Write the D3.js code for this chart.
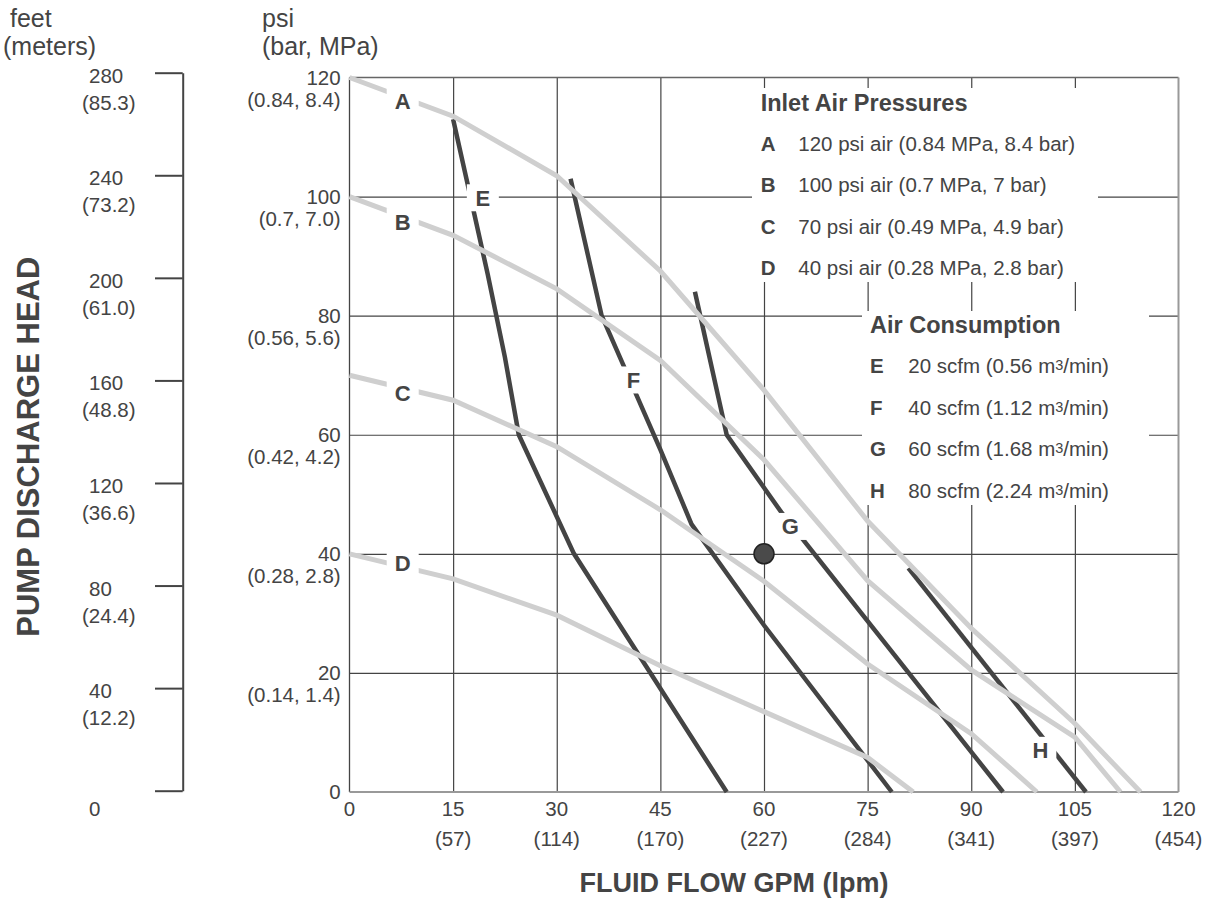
<!DOCTYPE html>
<html>
<head>
<meta charset="utf-8">
<script src="https://cdn.jsdelivr.net/npm/d3@7/dist/d3.min.js"></script>
<style>
  body { margin: 0; background: #fff; }
  svg text { font-family: "Liberation Sans", Arial, Helvetica, sans-serif; fill: #444; }
</style>
</head>
<body>
<svg id="chart" width="1211" height="899"></svg>
<script>
// ---- data ----
const flowTicks = [0, 15, 30, 45, 60, 75, 90, 105, 120]
const lpmLabels = ["", "(57)", "(114)", "(170)", "(227)", "(284)", "(341)", "(397)", "(454)"]
const psiTicks = [0, 20, 40, 60, 80, 100, 120]
const psiSubLabels = ["", "(0.14, 1.4)", "(0.28, 2.8)", "(0.42, 4.2)", "(0.56, 5.6)", "(0.7, 7.0)", "(0.84, 8.4)"]
const feetTicks = [0, 40, 80, 120, 160, 200, 240, 280]
const meterLabels = ["", "(12.2)", "(24.4)", "(36.6)", "(48.8)", "(61.0)", "(73.2)", "(85.3)"]

// inlet air pressure curves (gpm, psi)
const curveA = [[0, 120], [15, 113.5], [30, 103.5], [45, 87.5], [60, 67.5], [75, 45.5], [90, 27.5], [105, 11.5], [114.5, 0]]
const curveB = [[0, 100], [15, 93.5], [30, 84.5], [45, 72.5], [60, 55.8], [75, 35.5], [90, 20.5], [105, 9.2], [111.6, 0]]
const curveC = [[0, 70], [15, 65.8], [30, 58], [45, 47.4], [60, 35.4], [75, 21.5], [90, 9.8], [99.5, 0]]
const curveD = [[0, 40], [15, 35.8], [30, 29.7], [45, 21.2], [60, 13.5], [75, 5.8], [81.6, 0]]
// air consumption curves
const curveE = [[15, 113], [17.5, 100], [20, 87], [22.5, 73], [24.5, 60], [32.5, 40], [54.6, 0]]
const curveF = [[32, 103], [36.5, 80], [45, 57.5], [49.5, 45], [60, 28], [78.5, 0]]
const curveG = [[50, 84], [54.6, 60], [62.5, 47], [94.6, 0]]
const curveH = [[80.9, 37.6], [106.6, 0]]

// where each curve letter sits (gpm, psi)
const curveLabels = [["A", 7.7, 116], ["B", 7.7, 95.8], ["C", 7.7, 67], ["D", 7.7, 38.4],
                     ["E", 19.3, 99.8], ["F", 41.1, 69.2], ["G", 63.8, 44.6], ["H", 100, 7]]
const operatingPoint = [60, 40]

const pressureKeys = ["A", "B", "C", "D"]
const pressureTexts = ["120 psi air (0.84 MPa, 8.4 bar)", "100 psi air (0.7 MPa, 7 bar)",
                       "70 psi air (0.49 MPa, 4.9 bar)", "40 psi air (0.28 MPa, 2.8 bar)"]
const consumptionKeys = ["E", "F", "G", "H"]
const consumptionScfm = [20, 40, 60, 80]
const consumptionM3 = ["0.56", "1.12", "1.68", "2.24"]

// ---- layout ----
const svg = d3.select("#chart")
const x = d3.scaleLinear().domain([0, 120]).range([349.5, 1178.5])
const y = d3.scaleLinear().domain([0, 120]).range([792, 77.5])
const feet = d3.scaleLinear().domain([0, 280]).range([790.7, 72.7])

const dark = "#444"
const light = "#cfcfcf"
const labelSize = 20.5

// grid
const grid = svg.append("g")
grid.append("g")
  .attr("transform", `translate(0, ${y(0)})`)
  .call(d3.axisBottom(x).tickValues(flowTicks.slice(1, -1)).tickSize(-(y(0) - y(120))).tickFormat(""))
  .call(g => g.select(".domain").remove())
grid.append("g")
  .attr("transform", `translate(${x(0)}, 0)`)
  .call(d3.axisLeft(y).tickValues(psiTicks.slice(1, -1)).tickSize(-(x(120) - x(0))).tickFormat(""))
  .call(g => g.select(".domain").remove())
grid.selectAll(".tick line").attr("stroke", dark).attr("stroke-width", 1.2)

// frame
svg.append("line").attr("x1", x(0)).attr("x2", x(0)).attr("y1", y(120)).attr("y2", y(0))
  .attr("stroke", dark).attr("stroke-width", 1.3)
svg.append("line").attr("x1", x(0)).attr("x2", x(120)).attr("y1", y(120)).attr("y2", y(120))
  .attr("stroke", "#666").attr("stroke-width", 1.5)
svg.append("line").attr("x1", x(120)).attr("x2", x(120)).attr("y1", y(120)).attr("y2", y(0))
  .attr("stroke", "#999").attr("stroke-width", 2)
svg.append("line").attr("x1", x(0)).attr("x2", x(120)).attr("y1", y(0)).attr("y2", y(0))
  .attr("stroke", "#999").attr("stroke-width", 2)

// legend backgrounds break the grid
svg.append("rect").attr("x", 752).attr("y", 88).attr("width", 346).attr("height", 194).attr("fill", "#fff")
svg.append("rect").attr("x", 862).attr("y", 311).attr("width", 287).attr("height", 194).attr("fill", "#fff")

// curves
const line = d3.line().x(d => x(d[0])).y(d => y(d[1]))
const curves = svg.append("g").attr("fill", "none").attr("stroke-linejoin", "miter")
;[curveE, curveF, curveG, curveH].forEach(c => {
  curves.append("path").attr("d", line(c)).attr("stroke", dark).attr("stroke-width", 4.5)
})
;[curveA, curveB, curveC, curveD].forEach(c => {
  curves.append("path").attr("d", line(c)).attr("stroke", light).attr("stroke-width", 5)
})

// curve letters with white gaps
const labels = svg.append("g").selectAll("g").data(curveLabels).join("g")
  .attr("transform", d => `translate(${x(d[1])}, ${y(d[2])})`)
labels.append("rect").attr("x", -16).attr("y", -13.5).attr("width", 32).attr("height", 27).attr("fill", "#fff")
labels.append("text").attr("text-anchor", "middle").attr("dy", 8)
  .attr("font-size", 22).attr("font-weight", "bold").text(d => d[0])

// operating point
svg.append("circle").attr("cx", x(operatingPoint[0])).attr("cy", y(operatingPoint[1])).attr("r", 10)
  .attr("fill", "#4a4a4a").attr("stroke", "#222").attr("stroke-width", 1.5)

// x axis labels
const xl = svg.append("g").attr("font-size", labelSize).attr("text-anchor", "middle")
flowTicks.forEach((t, i) => {
  xl.append("text").attr("x", x(t)).attr("y", 816).text(t)
  if (lpmLabels[i]) xl.append("text").attr("x", x(t)).attr("y", 846).text(lpmLabels[i])
})
svg.append("text").attr("x", 734).attr("y", 891.5).attr("text-anchor", "middle")
  .attr("font-size", 27).attr("font-weight", "bold").text("FLUID FLOW GPM (lpm)")

// psi axis labels
const yl = svg.append("g").attr("font-size", labelSize).attr("text-anchor", "end")
psiTicks.forEach((t, i) => {
  yl.append("text").attr("x", 340.7).attr("y", y(t) + 7).text(t)
  if (psiSubLabels[i]) yl.append("text").attr("x", 340.7).attr("y", y(t) + 29).text(psiSubLabels[i])
})
svg.append("text").attr("x", 262).attr("y", 26.7).attr("font-size", 25).text("psi")
svg.append("text").attr("x", 262).attr("y", 55).attr("font-size", 25).text("(bar, MPa)")

// feet bracket
const feetAxis = svg.append("g").attr("transform", "translate(182.7, 0)")
  .call(d3.axisLeft(feet).tickValues(feetTicks).tickSizeInner(27.7).tickSizeOuter(0).tickFormat(""))
feetAxis.selectAll("line, path").attr("stroke", dark).attr("stroke-width", 2)
const fl = svg.append("g").attr("font-size", labelSize)
feetTicks.forEach((t, i) => {
  if (t === 0) {
    fl.append("text").attr("x", 89).attr("y", feet(t) + 25).text(t)
  } else {
    fl.append("text").attr("x", 89).attr("y", feet(t) + 10).text(t)
    fl.append("text").attr("x", 82).attr("y", feet(t) + 37).text(meterLabels[i])
  }
})
svg.append("text").attr("x", 10).attr("y", 26.7).attr("font-size", 25).text("feet")
svg.append("text").attr("x", 3).attr("y", 55).attr("font-size", 25).text("(meters)")
svg.append("text").attr("transform", "translate(38.5, 446.7) rotate(-90)")
  .attr("text-anchor", "middle").attr("font-size", 31).attr("font-weight", "bold")
  .text("PUMP DISCHARGE HEAD")

// legend: inlet air pressures
svg.append("text").attr("x", 760.7).attr("y", 110.7).attr("font-size", 23.5).attr("font-weight", "bold")
  .text("Inlet Air Pressures")
pressureKeys.forEach((k, i) => {
  const by = 151 + i * 41.3
  svg.append("text").attr("x", 760.7).attr("y", by).attr("font-size", labelSize).attr("font-weight", "bold").text(k)
  svg.append("text").attr("x", 798.3).attr("y", by).attr("font-size", labelSize).text(pressureTexts[i])
})

// legend: air consumption
svg.append("text").attr("x", 870).attr("y", 333.3).attr("font-size", 23.5).attr("font-weight", "bold")
  .text("Air Consumption")
consumptionKeys.forEach((k, i) => {
  const by = 373.3 + i * 41.5
  svg.append("text").attr("x", 870).attr("y", by).attr("font-size", labelSize).attr("font-weight", "bold").text(k)
  const t = svg.append("text").attr("x", 908.3).attr("y", by).attr("font-size", labelSize)
  t.append("tspan").text(`${consumptionScfm[i]} scfm (${consumptionM3[i]} m`)
  t.append("tspan").attr("font-size", 14.5).attr("dy", -3).text("3")
  t.append("tspan").attr("dy", 3).text("/min)")
})
</script>
</body>
</html>
